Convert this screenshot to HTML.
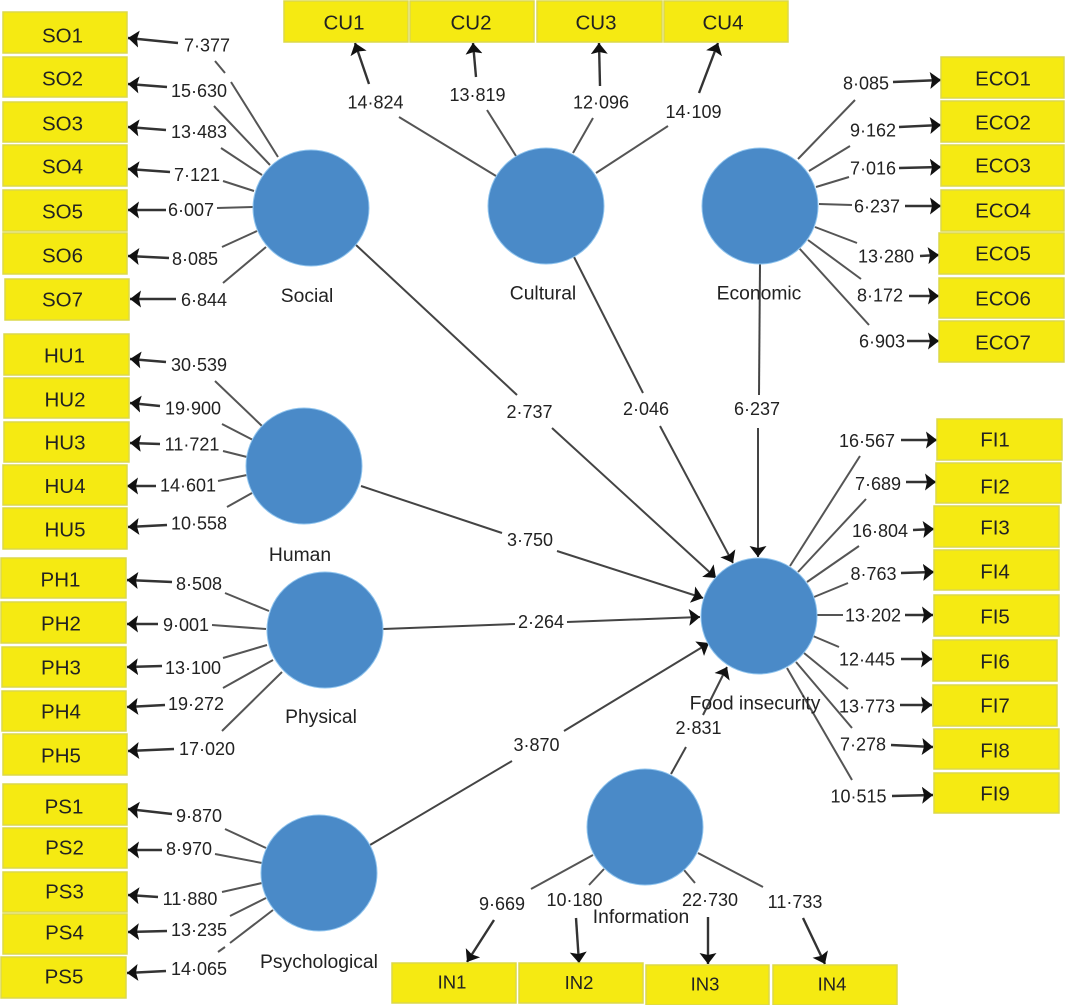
<!DOCTYPE html>
<html><head><meta charset="utf-8">
<style>
html,body{margin:0;padding:0;background:#fff;width:1067px;height:1005px;overflow:hidden}
svg{display:block}
text{font-family:"Liberation Sans",sans-serif;fill:#222;text-anchor:middle}
.b rect{fill:#f5ea12;stroke:#dcd84a;stroke-width:1.5}
.b text{font-size:20.5px}
.n text{font-size:18px}
.c text{font-size:19.3px}
.l path{fill:none;stroke:#555;stroke-width:2}
.a path{fill:none;stroke:#333;stroke-width:2.4;marker-end:url(#m)}
.s path{fill:none;stroke:#444;stroke-width:2}
.s .h{marker-end:url(#m)}
circle{fill:#4a8ac8;stroke:#8fc4ee;stroke-width:1}
</style></head><body>
<svg width="1067" height="1005" viewBox="0 0 1067 1005" xmlns="http://www.w3.org/2000/svg">
<defs><marker id="m" markerUnits="userSpaceOnUse" markerWidth="14" markerHeight="20" refX="11" refY="8.5" orient="auto"><path d="M0 0L11 8.5L0 17L2 8.5Z" fill="#111"/></marker></defs>

<g class="l">
<path d="M278 157L231 82M225 73L215 61"/><path d="M270 165L214 106"/><path d="M262 175L221 148"/><path d="M254 191L223 181"/><path d="M253 207L217 208"/><path d="M257 231L222 247"/><path d="M266 247L223 283"/>
<path d="M262 426L215 381"/><path d="M253 440L222 424"/><path d="M247 457L223 451"/><path d="M247 475L218 481"/><path d="M252 493L227 507"/>
<path d="M269 611L225 593"/><path d="M266 629L212 625"/><path d="M267 645L223 658"/><path d="M273 660L223 688"/><path d="M282 672L222 731"/>
<path d="M266 848L225 829"/><path d="M262 863L215 854"/><path d="M262 883L222 892"/><path d="M266 898L230 916"/><path d="M273 910L230 943M225 947L218 952"/>
<path d="M496 176L399 117"/><path d="M516 156L487 110"/><path d="M573 153L593 118"/><path d="M596 173L668 126"/>
<path d="M798 159L855 100"/><path d="M809 171L850 146"/><path d="M816 187L849 177"/><path d="M819 204L852 205"/><path d="M815 227L857 243"/><path d="M808 240L861 279"/><path d="M799 248L869 325"/>
<path d="M790 566L860 456"/><path d="M798 572L866 499"/><path d="M807 582L859 546"/><path d="M814 597L848 583"/><path d="M817 615L843 615"/><path d="M813 636L839 647"/><path d="M804 653L848 689"/><path d="M796 662L852 728"/><path d="M787 668L852 780"/>
<path d="M593 855L531 889"/><path d="M604 869L589 885"/><path d="M684 870L695 883"/><path d="M698 853L763 887"/>
</g>

<g class="a">
<path d="M178 43L128 38"/><path d="M167 87L128 84"/><path d="M166 130L128 127"/><path d="M170 172L128 169"/><path d="M166 210L128 210"/><path d="M169 258L128 256"/><path d="M176 299L130 299"/>
<path d="M166 362L130 359"/><path d="M160 406L130 403"/><path d="M160 444L130 443"/><path d="M156 486L127 486"/><path d="M167 525L128 527"/>
<path d="M172 582L127 580"/><path d="M158 624L127 624"/><path d="M162 666L127 667"/><path d="M165 705L127 707"/><path d="M174 749L128 751"/>
<path d="M172 814L128 809"/><path d="M162 850L128 850"/><path d="M158 897L128 895"/><path d="M167 931L128 932"/><path d="M166 971L127 973"/>
<path d="M369 84L355 43"/><path d="M476 77L473 43"/><path d="M600 86L599 43"/><path d="M699 93L718 43"/>
<path d="M893 82L941 80"/><path d="M899 127L941 125"/><path d="M899 168L941 167"/><path d="M905 206L941 206"/><path d="M920 256L939 255"/><path d="M909 296L939 296"/><path d="M907 341L939 341"/>
<path d="M901 440L937 440"/><path d="M906 482L936 482"/><path d="M913 530L934 529"/><path d="M901 573L934 572"/><path d="M905 615L933 615"/><path d="M901 659L932 659"/><path d="M900 705L932 705"/><path d="M891 745L933 747"/><path d="M892 796L933 795"/>
<path d="M494 920L467 962"/><path d="M576 918L579 963"/><path d="M708 917L708 964"/><path d="M803 918L825 964"/>
</g>

<g class="s">
<path d="M356 245L517 395"/><path class="h" d="M552 428L716 578"/>
<path d="M574 257L643 393"/><path class="h" d="M660 426L733 563"/>
<path d="M760 263L759 395"/><path class="h" d="M758 428L758 557"/>
<path d="M361 486L502 533"/><path class="h" d="M557 551L703 598"/>
<path d="M383 629L515 624"/><path class="h" d="M567 622L700 617"/>
<path d="M370 845L512 761"/><path class="h" d="M564 731L709 643"/>
<path d="M671 774L686 747"/><path class="h" d="M703 715L727 667"/>
</g>

<circle cx="311" cy="208" r="58"/><circle cx="546" cy="206" r="58"/><circle cx="760" cy="206" r="58"/>
<circle cx="304" cy="466" r="58"/><circle cx="325" cy="630" r="58"/><circle cx="759" cy="616" r="58"/>
<circle cx="319" cy="873" r="58"/><circle cx="645" cy="827" r="58"/>

<g class="b">
<rect x="3" y="12" width="124" height="41"/><text x="62.5" y="42.5">SO1</text>
<rect x="3" y="57" width="124" height="40"/><text x="62.5" y="85.5">SO2</text>
<rect x="3" y="102" width="124" height="40"/><text x="62.5" y="130.5">SO3</text>
<rect x="3" y="145" width="124" height="41"/><text x="62.5" y="173.5">SO4</text>
<rect x="3" y="190" width="124" height="41"/><text x="62.5" y="218.5">SO5</text>
<rect x="3" y="233" width="124" height="41"/><text x="62.5" y="262.5">SO6</text>
<rect x="5" y="279" width="124" height="41"/><text x="62.5" y="306.5">SO7</text>
<rect x="4" y="334" width="125" height="41"/><text x="64.5" y="362.5">HU1</text>
<rect x="4" y="378" width="125" height="40"/><text x="65" y="406.5">HU2</text>
<rect x="4" y="422" width="125" height="40"/><text x="65" y="449.5">HU3</text>
<rect x="3" y="465" width="124" height="40"/><text x="65" y="493">HU4</text>
<rect x="3" y="508" width="124" height="41"/><text x="65" y="536.5">HU5</text>
<rect x="1" y="558" width="125" height="40"/><text x="60.5" y="586.5">PH1</text>
<rect x="1" y="602" width="125" height="41"/><text x="61" y="630.5">PH2</text>
<rect x="2" y="647" width="124" height="40"/><text x="61" y="674.5">PH3</text>
<rect x="2" y="691" width="124" height="40"/><text x="61" y="718.5">PH4</text>
<rect x="3" y="734" width="124" height="41"/><text x="61" y="762.5">PH5</text>
<rect x="3" y="784" width="124" height="41"/><text x="64" y="813.5">PS1</text>
<rect x="3" y="828" width="124" height="40"/><text x="64.5" y="854.5">PS2</text>
<rect x="3" y="872" width="124" height="40"/><text x="64.5" y="898.5">PS3</text>
<rect x="3" y="914" width="124" height="40"/><text x="64.5" y="939.5">PS4</text>
<rect x="1" y="957" width="125" height="41"/><text x="64" y="983.5">PS5</text>
<rect x="284" y="1" width="124" height="41"/><text x="344" y="29.5">CU1</text>
<rect x="410" y="1" width="124" height="41"/><text x="471" y="29.5">CU2</text>
<rect x="537" y="1" width="125" height="41"/><text x="596" y="29.5">CU3</text>
<rect x="664" y="1" width="124" height="41"/><text x="723" y="29.5">CU4</text>
<rect x="941" y="57" width="123" height="41"/><text x="1003" y="85.5">ECO1</text>
<rect x="941" y="101" width="123" height="41"/><text x="1003" y="129.5">ECO2</text>
<rect x="941" y="145" width="123" height="41"/><text x="1003" y="172.5">ECO3</text>
<rect x="941" y="190" width="123" height="41"/><text x="1003" y="217.5">ECO4</text>
<rect x="939" y="233" width="125" height="41"/><text x="1003" y="260.5">ECO5</text>
<rect x="939" y="278" width="125" height="40"/><text x="1003" y="305.5">ECO6</text>
<rect x="939" y="321" width="125" height="41"/><text x="1003" y="349.5">ECO7</text>
<rect x="937" y="419" width="125" height="41"/><text x="995" y="446.5">FI1</text>
<rect x="936" y="463" width="125" height="40"/><text x="995" y="493.5">FI2</text>
<rect x="934" y="506" width="125" height="41"/><text x="995" y="534.5">FI3</text>
<rect x="934" y="550" width="125" height="40"/><text x="995" y="578.5">FI4</text>
<rect x="934" y="595" width="125" height="41"/><text x="995" y="623.5">FI5</text>
<rect x="933" y="640" width="124" height="41"/><text x="995" y="668.5">FI6</text>
<rect x="933" y="685" width="124" height="41"/><text x="995" y="712.5">FI7</text>
<rect x="934" y="729" width="125" height="40"/><text x="995" y="757.5">FI8</text>
<rect x="934" y="773" width="125" height="40"/><text x="995" y="800.5">FI9</text>
<rect x="392" y="963" width="124" height="40"/><text x="452" y="988.6" style="font-size:18.5px">IN1</text>
<rect x="519" y="963" width="124" height="40"/><text x="579" y="989" style="font-size:18.5px">IN2</text>
<rect x="646" y="965" width="123" height="40"/><text x="705" y="990.5" style="font-size:18.5px">IN3</text>
<rect x="773" y="965" width="124" height="40"/><text x="832" y="990.5" style="font-size:18.5px">IN4</text>
</g>

<g class="n">
<text x="207" y="51.5">7·377</text><text x="199" y="97">15·630</text><text x="199" y="138">13·483</text><text x="197" y="181">7·121</text><text x="191" y="216">6·007</text><text x="195" y="265">8·085</text><text x="204" y="306">6·844</text>
<text x="199" y="371">30·539</text><text x="193" y="414.5">19·900</text><text x="192" y="450.5">11·721</text><text x="188" y="491.5">14·601</text><text x="199" y="529.5">10·558</text>
<text x="199" y="590">8·508</text><text x="186" y="631">9·001</text><text x="193" y="674">13·100</text><text x="196" y="710">19·272</text><text x="207" y="755">17·020</text>
<text x="199" y="822">9·870</text><text x="189" y="855">8·970</text><text x="190" y="905">11·880</text><text x="199" y="936">13·235</text><text x="199" y="975">14·065</text>
<text x="375.5" y="108.5">14·824</text><text x="477.5" y="101">13·819</text><text x="601" y="108.5">12·096</text><text x="693.5" y="118">14·109</text>
<text x="866" y="89.5">8·085</text><text x="873" y="136.5">9·162</text><text x="873" y="174.5">7·016</text><text x="877" y="212.5">6·237</text><text x="886" y="262.5">13·280</text><text x="880" y="301.5">8·172</text><text x="882" y="347.5">6·903</text>
<text x="867" y="447">16·567</text><text x="878" y="490">7·689</text><text x="880" y="537">16·804</text><text x="873.5" y="580">8·763</text><text x="873" y="621.5">13·202</text><text x="867" y="665.5">12·445</text><text x="867" y="712.5">13·773</text><text x="863" y="750.5">7·278</text><text x="858.5" y="802.5">10·515</text>
<text x="529.5" y="418">2·737</text><text x="646" y="415">2·046</text><text x="757" y="415">6·237</text><text x="530" y="546">3·750</text><text x="541" y="628">2·264</text><text x="536.5" y="751">3·870</text><text x="698.5" y="734">2·831</text>
<text x="502" y="910">9·669</text><text x="574.5" y="906">10·180</text><text x="710" y="906">22·730</text><text x="795" y="908">11·733</text>
</g>

<g class="c">
<text x="307" y="302">Social</text><text x="543" y="299.5">Cultural</text><text x="759" y="299.5">Economic</text>
<text x="300" y="561">Human</text><text x="321" y="723">Physical</text><text x="755" y="709.5">Food insecurity</text>
<text x="641" y="923">Information</text><text x="319" y="968">Psychological</text>
</g>
</svg>
</body></html>
